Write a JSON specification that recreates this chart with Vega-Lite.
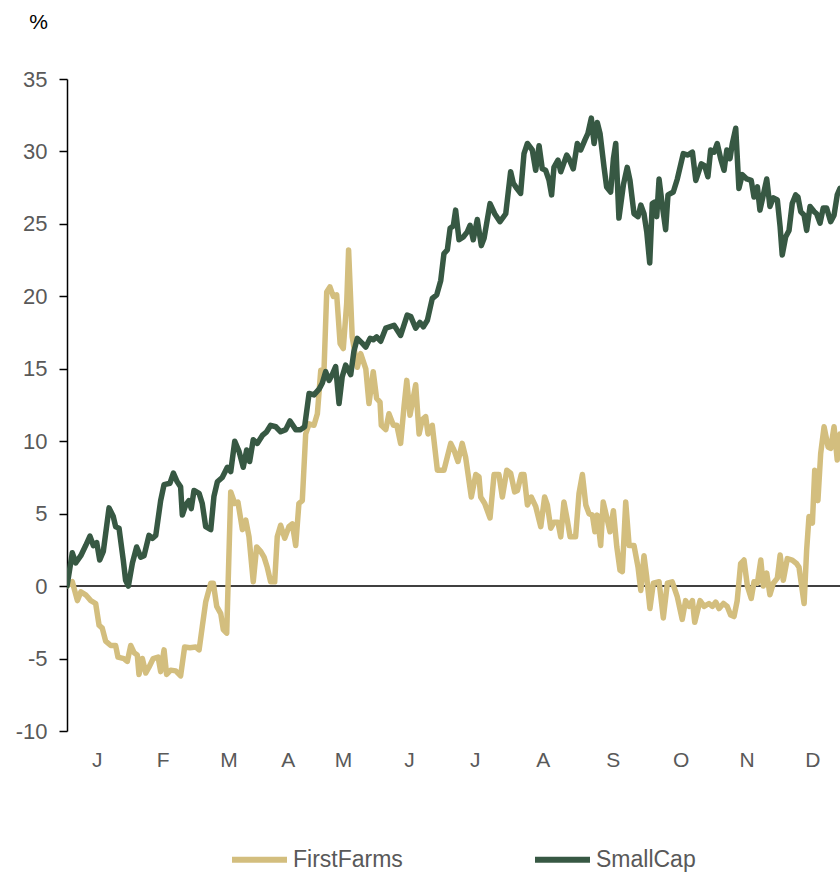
{
"$schema": "https://vega.github.io/schema/vega-lite/v6.json",
"width": 773,
"height": 652,
"autosize": {"type": "none"},
"padding": {"left": 67, "top": 79, "right": 0, "bottom": 142},
"background": "white",
"config": {"view": {"stroke": null}, "font": "Liberation Sans"},
"datasets": {
"SmallCap": [
{"day":0,"pct":0},{"day":2.5,"pct":2.3},{"day":4.1,"pct":1.6},{"day":6.5,"pct":2.1},{"day":8.8,"pct":2.8},{"day":10.8,"pct":3.45},{"day":12.4,"pct":2.8},{"day":14.0,"pct":3.0},{"day":15.4,"pct":1.8},{"day":17.1,"pct":2.4},{"day":19.8,"pct":5.4},{"day":21.8,"pct":4.8},{"day":22.9,"pct":4.1},{"day":24.5,"pct":4.0},{"day":26.5,"pct":1.8},{"day":27.6,"pct":0.4},{"day":28.9,"pct":0.0},{"day":30.8,"pct":1.6},{"day":32.8,"pct":2.7},{"day":34.7,"pct":2.0},{"day":36.3,"pct":2.1},{"day":38.6,"pct":3.5},{"day":40.2,"pct":3.3},{"day":41.8,"pct":3.5},{"day":44.1,"pct":5.9},{"day":45.7,"pct":7.0},{"day":48.5,"pct":7.1},{"day":50.1,"pct":7.8},{"day":51.9,"pct":7.2},{"day":53.5,"pct":6.85},{"day":54.3,"pct":4.9},{"day":55.9,"pct":5.6},{"day":57.4,"pct":5.9},{"day":58.5,"pct":5.35},{"day":59.8,"pct":6.6},{"day":62.2,"pct":6.4},{"day":63.7,"pct":5.7},{"day":65.3,"pct":4.1},{"day":67.7,"pct":3.9},{"day":69.2,"pct":6.2},{"day":70.8,"pct":7.2},{"day":73.1,"pct":7.5},{"day":75.5,"pct":8.2},{"day":77.1,"pct":7.9},{"day":79.0,"pct":10.0},{"day":81.0,"pct":9.3},{"day":83.0,"pct":8.2},{"day":84.6,"pct":9.4},{"day":86.0,"pct":8.6},{"day":87.7,"pct":10.1},{"day":89.6,"pct":9.85},{"day":92.0,"pct":10.4},{"day":94.0,"pct":10.65},{"day":95.9,"pct":11.1},{"day":98.3,"pct":11.0},{"day":100.6,"pct":10.65},{"day":103.0,"pct":10.8},{"day":105.0,"pct":11.4},{"day":107.7,"pct":10.8},{"day":110.0,"pct":10.8},{"day":111.9,"pct":11.0},{"day":114.0,"pct":13.3},{"day":116.3,"pct":13.2},{"day":118.7,"pct":13.6},{"day":120.2,"pct":14.0},{"day":121.8,"pct":14.8},{"day":123.4,"pct":14.2},{"day":124.9,"pct":14.6},{"day":126.5,"pct":15.15},{"day":128.1,"pct":12.6},{"day":129.6,"pct":14.45},{"day":131.2,"pct":15.25},{"day":133.6,"pct":14.6},{"day":135.1,"pct":16.2},{"day":136.7,"pct":17.1},{"day":139.1,"pct":16.75},{"day":140.7,"pct":16.5},{"day":142.7,"pct":17.1},{"day":144.2,"pct":17.0},{"day":145.8,"pct":17.2},{"day":147.7,"pct":16.9},{"day":150.1,"pct":17.8},{"day":154.0,"pct":18.0},{"day":157.1,"pct":17.3},{"day":160.2,"pct":18.7},{"day":161.9,"pct":18.6},{"day":164.2,"pct":17.8},{"day":166.2,"pct":18.2},{"day":167.8,"pct":17.9},{"day":169.7,"pct":18.35},{"day":172.0,"pct":19.85},{"day":174.1,"pct":20.1},{"day":176.0,"pct":21.1},{"day":177.5,"pct":22.95},{"day":179.1,"pct":23.2},{"day":180.4,"pct":24.7},{"day":181.9,"pct":24.85},{"day":183.0,"pct":25.95},{"day":184.6,"pct":23.9},{"day":186.6,"pct":24.1},{"day":188.5,"pct":24.45},{"day":189.8,"pct":24.9},{"day":191.3,"pct":23.9},{"day":193.2,"pct":25.3},{"day":195.1,"pct":23.5},{"day":196.4,"pct":24.0},{"day":199.2,"pct":26.4},{"day":201.4,"pct":25.7},{"day":203.9,"pct":25.15},{"day":206.6,"pct":25.7},{"day":208.9,"pct":28.6},{"day":210.2,"pct":27.8},{"day":211.8,"pct":27.45},{"day":213.6,"pct":27.1},{"day":215.2,"pct":29.85},{"day":216.8,"pct":30.55},{"day":219.1,"pct":30.1},{"day":220.7,"pct":28.7},{"day":222.3,"pct":30.4},{"day":223.8,"pct":28.8},{"day":225.4,"pct":28.7},{"day":227.0,"pct":28.0},{"day":228.2,"pct":27.0},{"day":229.3,"pct":28.9},{"day":231.2,"pct":29.4},{"day":232.5,"pct":28.6},{"day":235.3,"pct":29.75},{"day":236.4,"pct":29.5},{"day":238.4,"pct":28.8},{"day":240.3,"pct":30.55},{"day":241.9,"pct":30.1},{"day":243.9,"pct":30.8},{"day":245.3,"pct":31.25},{"day":246.9,"pct":32.3},{"day":248.2,"pct":30.55},{"day":249.7,"pct":32.0},{"day":251.0,"pct":31.25},{"day":252.9,"pct":28.9},{"day":254.1,"pct":27.55},{"day":256.0,"pct":27.2},{"day":257.3,"pct":29.5},{"day":258.4,"pct":30.55},{"day":259.9,"pct":25.4},{"day":262.0,"pct":27.7},{"day":263.8,"pct":28.9},{"day":265.1,"pct":28.0},{"day":267.0,"pct":25.7},{"day":268.9,"pct":25.5},{"day":270.2,"pct":26.3},{"day":271.7,"pct":25.7},{"day":273.0,"pct":24.45},{"day":274.4,"pct":22.3},{"day":275.6,"pct":26.4},{"day":276.7,"pct":26.5},{"day":277.7,"pct":25.5},{"day":278.8,"pct":28.1},{"day":280.3,"pct":26.3},{"day":281.9,"pct":24.6},{"day":283.0,"pct":27.0},{"day":285.5,"pct":27.2},{"day":287.4,"pct":28.1},{"day":290.2,"pct":29.85},{"day":292.4,"pct":29.75},{"day":294.5,"pct":29.95},{"day":296.1,"pct":28.0},{"day":298.7,"pct":29.15},{"day":300.3,"pct":29.0},{"day":301.8,"pct":28.25},{"day":303.1,"pct":30.1},{"day":304.7,"pct":29.95},{"day":306.2,"pct":30.55},{"day":307.8,"pct":29.5},{"day":309.4,"pct":28.7},{"day":310.7,"pct":30.1},{"day":312.2,"pct":29.5},{"day":313.3,"pct":30.55},{"day":314.9,"pct":31.6},{"day":316.4,"pct":27.45},{"day":318.0,"pct":28.4},{"day":320.1,"pct":28.1},{"day":322.2,"pct":28.0},{"day":323.5,"pct":26.85},{"day":325.1,"pct":27.55},{"day":326.3,"pct":25.95},{"day":327.9,"pct":27.0},{"day":329.5,"pct":28.1},{"day":331.0,"pct":26.2},{"day":332.6,"pct":26.8},{"day":334.5,"pct":26.65},{"day":335.8,"pct":24.8},{"day":336.8,"pct":22.85},{"day":338.4,"pct":24.1},{"day":340.0,"pct":24.55},{"day":341.5,"pct":26.4},{"day":343.1,"pct":27.0},{"day":344.2,"pct":26.85},{"day":345.5,"pct":25.85},{"day":347.1,"pct":25.6},{"day":348.3,"pct":24.55},{"day":349.9,"pct":26.2},{"day":351.8,"pct":25.85},{"day":353.0,"pct":25.7},{"day":354.6,"pct":25.05},{"day":356.1,"pct":26.1},{"day":357.7,"pct":26.1},{"day":359.6,"pct":25.15},{"day":361.2,"pct":25.6},{"day":362.7,"pct":27.0},{"day":364.0,"pct":27.45}
],
"FirstFarms": [
{"day":0,"pct":0},{"day":2.5,"pct":0.3},{"day":4.9,"pct":-1.0},{"day":6.5,"pct":-0.4},{"day":8.8,"pct":-0.6},{"day":11.2,"pct":-1.0},{"day":13.5,"pct":-1.2},{"day":15.1,"pct":-2.7},{"day":16.6,"pct":-2.9},{"day":18.2,"pct":-3.8},{"day":20.6,"pct":-4.1},{"day":22.9,"pct":-4.1},{"day":24.0,"pct":-4.9},{"day":26.8,"pct":-5.0},{"day":28.4,"pct":-5.2},{"day":30.0,"pct":-4.1},{"day":31.6,"pct":-4.6},{"day":33.1,"pct":-4.75},{"day":33.9,"pct":-6.1},{"day":35.5,"pct":-5.0},{"day":37.1,"pct":-6.0},{"day":38.6,"pct":-5.6},{"day":40.6,"pct":-5.0},{"day":42.9,"pct":-4.9},{"day":44.1,"pct":-5.9},{"day":45.7,"pct":-4.4},{"day":46.9,"pct":-6.1},{"day":48.8,"pct":-5.8},{"day":51.2,"pct":-5.85},{"day":53.5,"pct":-6.2},{"day":55.4,"pct":-4.2},{"day":57.9,"pct":-4.25},{"day":60.6,"pct":-4.2},{"day":62.2,"pct":-4.4},{"day":63.7,"pct":-2.8},{"day":65.3,"pct":-1.1},{"day":67.7,"pct":0.2},{"day":68.9,"pct":0.2},{"day":70.5,"pct":-1.4},{"day":72.4,"pct":-1.9},{"day":73.6,"pct":-3.0},{"day":75.2,"pct":-3.25},{"day":77.1,"pct":6.5},{"day":79.0,"pct":5.7},{"day":80.5,"pct":5.8},{"day":82.6,"pct":3.9},{"day":84.2,"pct":4.55},{"day":85.7,"pct":3.4},{"day":87.7,"pct":0.3},{"day":89.3,"pct":2.7},{"day":91.2,"pct":2.4},{"day":92.8,"pct":2.0},{"day":94.3,"pct":1.3},{"day":95.9,"pct":0.3},{"day":97.8,"pct":0.3},{"day":99.0,"pct":3.4},{"day":100.6,"pct":4.2},{"day":102.5,"pct":3.3},{"day":104.5,"pct":4.1},{"day":106.1,"pct":4.3},{"day":107.7,"pct":2.8},{"day":109.2,"pct":5.7},{"day":110.8,"pct":5.9},{"day":112.4,"pct":10.5},{"day":114.0,"pct":11.2},{"day":116.3,"pct":11.1},{"day":117.9,"pct":11.9},{"day":119.5,"pct":14.9},{"day":121.0,"pct":14.8},{"day":122.3,"pct":20.3},{"day":123.8,"pct":20.65},{"day":125.4,"pct":20.0},{"day":127.0,"pct":20.1},{"day":128.6,"pct":16.75},{"day":130.1,"pct":16.4},{"day":131.7,"pct":19.5},{"day":132.6,"pct":23.2},{"day":134.3,"pct":17.2},{"day":136.7,"pct":15.1},{"day":138.3,"pct":16.05},{"day":140.7,"pct":15.0},{"day":142.2,"pct":12.6},{"day":144.2,"pct":14.8},{"day":145.8,"pct":12.95},{"day":147.4,"pct":12.7},{"day":148.0,"pct":11.1},{"day":150.1,"pct":10.8},{"day":151.6,"pct":11.9},{"day":153.7,"pct":11.1},{"day":155.3,"pct":11.1},{"day":157.1,"pct":9.85},{"day":158.7,"pct":12.4},{"day":160.0,"pct":14.2},{"day":161.5,"pct":11.8},{"day":164.2,"pct":13.9},{"day":165.8,"pct":10.5},{"day":167.3,"pct":11.5},{"day":168.9,"pct":11.7},{"day":170.0,"pct":10.5},{"day":172.0,"pct":11.1},{"day":174.4,"pct":8.0},{"day":177.5,"pct":8.0},{"day":180.7,"pct":9.85},{"day":182.2,"pct":9.4},{"day":184.1,"pct":8.6},{"day":186.1,"pct":9.85},{"day":187.7,"pct":8.9},{"day":190.4,"pct":6.15},{"day":192.5,"pct":7.7},{"day":194.0,"pct":7.55},{"day":194.8,"pct":6.15},{"day":196.7,"pct":5.7},{"day":199.2,"pct":4.7},{"day":201.1,"pct":7.7},{"day":203.4,"pct":7.7},{"day":205.0,"pct":6.15},{"day":207.1,"pct":8.0},{"day":208.9,"pct":7.8},{"day":210.8,"pct":6.5},{"day":212.1,"pct":6.6},{"day":213.9,"pct":7.7},{"day":215.2,"pct":7.7},{"day":216.8,"pct":5.6},{"day":218.6,"pct":6.15},{"day":220.7,"pct":5.5},{"day":223.1,"pct":4.1},{"day":224.9,"pct":6.15},{"day":226.2,"pct":5.6},{"day":227.8,"pct":4.0},{"day":229.3,"pct":4.4},{"day":231.2,"pct":4.4},{"day":232.5,"pct":3.4},{"day":234.0,"pct":5.8},{"day":235.6,"pct":4.55},{"day":236.9,"pct":3.4},{"day":239.5,"pct":3.4},{"day":241.1,"pct":6.4},{"day":242.7,"pct":7.7},{"day":244.3,"pct":5.6},{"day":245.8,"pct":5.0},{"day":247.4,"pct":4.9},{"day":248.6,"pct":3.75},{"day":249.7,"pct":4.9},{"day":251.3,"pct":2.8},{"day":252.5,"pct":5.8},{"day":254.1,"pct":4.8},{"day":255.7,"pct":3.75},{"day":257.3,"pct":5.2},{"day":258.9,"pct":2.7},{"day":260.4,"pct":1.1},{"day":261.5,"pct":1.0},{"day":263.1,"pct":5.8},{"day":264.7,"pct":2.8},{"day":267.0,"pct":2.8},{"day":268.9,"pct":1.3},{"day":270.2,"pct":-0.3},{"day":271.7,"pct":2.1},{"day":273.0,"pct":0.6},{"day":274.5,"pct":-1.55},{"day":276.1,"pct":0.2},{"day":278.8,"pct":0.3},{"day":280.8,"pct":-2.2},{"day":282.7,"pct":0.2},{"day":285.0,"pct":0.3},{"day":287.4,"pct":-0.75},{"day":289.7,"pct":-2.3},{"day":291.3,"pct":-1.0},{"day":292.9,"pct":-1.4},{"day":294.5,"pct":-1.0},{"day":295.6,"pct":-2.5},{"day":298.1,"pct":-1.0},{"day":300.0,"pct":-1.4},{"day":302.3,"pct":-1.2},{"day":303.9,"pct":-1.4},{"day":305.5,"pct":-1.1},{"day":307.0,"pct":-1.55},{"day":309.1,"pct":-1.2},{"day":310.9,"pct":-1.4},{"day":312.5,"pct":-2.0},{"day":314.1,"pct":-2.1},{"day":315.6,"pct":-1.0},{"day":317.2,"pct":1.55},{"day":318.8,"pct":1.8},{"day":320.4,"pct":0.0},{"day":322.2,"pct":-0.85},{"day":323.5,"pct":0.3},{"day":325.1,"pct":0.2},{"day":326.7,"pct":1.8},{"day":327.9,"pct":0.0},{"day":329.5,"pct":0.9},{"day":331.0,"pct":-0.6},{"day":332.6,"pct":0.2},{"day":334.5,"pct":0.55},{"day":335.8,"pct":2.15},{"day":337.3,"pct":0.4},{"day":339.2,"pct":1.9},{"day":341.5,"pct":1.8},{"day":343.6,"pct":1.55},{"day":344.7,"pct":1.3},{"day":347.1,"pct":-1.2},{"day":348.3,"pct":2.5},{"day":349.4,"pct":4.8},{"day":351.0,"pct":4.35},{"day":352.1,"pct":8.0},{"day":353.6,"pct":5.9},{"day":354.9,"pct":9.15},{"day":356.5,"pct":11.0},{"day":358.4,"pct":9.6},{"day":359.6,"pct":9.5},{"day":361.2,"pct":11.0},{"day":362.7,"pct":8.7},{"day":364.0,"pct":10.5}
]
},
"layer": [
{
"data": {"values": [{"pct": 0}]},
"mark": {"type": "rule", "color": "#000000", "strokeWidth": 1.5},
"encoding": {"y": {"field": "pct", "type": "quantitative", "scale": {"domain": [-10, 35], "nice": false},
"axis": {"values": [-10, -5, 0, 5, 10, 15, 20, 25, 30, 35], "labelExpr": "'' + datum.value", "title": "%", "titleAngle": 0, "titleX": -29, "titleY": -57, "titleAlign": "center", "titleBaseline": "middle", "titleFontSize": 21, "titleFontWeight": "normal", "titleColor": "#000000", "titleFont": "Liberation Sans", "grid": false, "domainColor": "#000000", "domainWidth": 1.5, "tickColor": "#000000", "tickWidth": 1.5, "tickSize": 8, "labelPadding": 12, "labelFontSize": 22, "labelColor": "#595959", "labelFont": "Liberation Sans"}}}
},
{
"data": {"name": "FirstFarms"},
"transform": [{"calculate": "'FirstFarms'", "as": "series"}],
"mark": {"type": "line", "strokeWidth": 5.5, "strokeJoin": "round", "strokeCap": "round", "clip": true},
"encoding": {
"x": {"field": "day", "type": "quantitative", "scale": {"domain": [0, 364], "nice": false, "zero": false},
"axis": {"values": [14, 45, 76, 104, 130, 161, 192, 224, 257, 289, 320, 351], "labelExpr": "slice(timeFormat(datetime(2023, 0, 1 + datum.value), '%b'), 0, 1)", "title": null, "domain": false, "ticks": false, "tickSize": 0, "grid": false, "labelPadding": 18, "labelFontSize": 21, "labelColor": "#595959", "labelFont": "Liberation Sans"}},
"y": {"field": "pct", "type": "quantitative"},
"color": {"field": "series", "type": "nominal", "scale": {"domain": ["FirstFarms", "SmallCap"], "range": ["#D3BE7E", "#375843"]},
"legend": {"orient": "none", "legendX": 162, "legendY": 750, "padding": 0, "direction": "horizontal", "title": null, "symbolType": "stroke", "symbolSize": 3025, "symbolStrokeWidth": 6, "labelFontSize": 23, "labelColor": "#595959", "labelFont": "Liberation Sans", "columnPadding": 120, "labelOffset": 3}}
}
},
{
"data": {"name": "SmallCap"},
"transform": [{"calculate": "'SmallCap'", "as": "series"}],
"mark": {"type": "line", "strokeWidth": 5.5, "strokeJoin": "round", "strokeCap": "round", "clip": true},
"encoding": {
"x": {"field": "day", "type": "quantitative"},
"y": {"field": "pct", "type": "quantitative"},
"color": {"field": "series", "type": "nominal"}
}
}
]
}
